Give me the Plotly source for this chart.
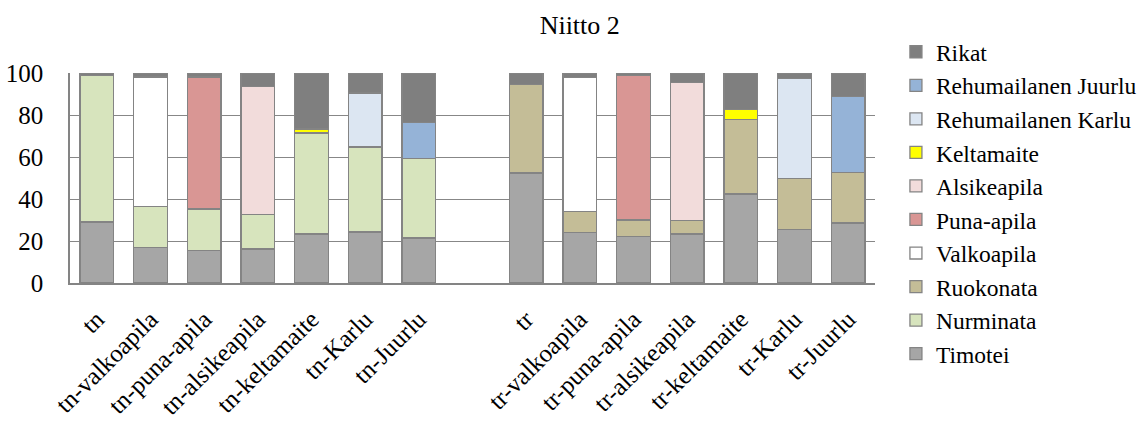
import plotly.graph_objects as go

# Treatment labels for the two mixture groups
tn_labels = ["tn", "tn-valkoapila", "tn-puna-apila", "tn-alsikeapila",
             "tn-keltamaite", "tn-Karlu", "tn-Juurlu"]
tr_labels = ["tr", "tr-valkoapila", "tr-puna-apila", "tr-alsikeapila",
             "tr-keltamaite", "tr-Karlu", "tr-Juurlu"]
gap_label = " "

# Share of each species (%), tn group then tr group
timotei_tn     = [29.0, 17.0, 15.6, 16.2, 23.3, 24.3, 21.4]
nurminata_tn   = [69.7, 19.5, 19.6, 16.5, 48.1, 40.5, 37.8]
ruokonata_tn   = [0, 0, 0, 0, 0, 0, 0]
valkoapila_tn  = [0, 61.6, 0, 0, 0, 0, 0]
puna_apila_tn  = [0, 0, 62.9, 0, 0, 0, 0]
alsike_tn      = [0, 0, 0, 61.0, 0, 0, 0]
keltamaite_tn  = [0, 0, 0, 0, 1.9, 0, 0]
karlu_tn       = [0, 0, 0, 0, 0, 25.7, 0]
juurlu_tn      = [0, 0, 0, 0, 0, 0, 17.1]
rikat_tn       = [1.3, 1.9, 1.9, 6.3, 26.7, 9.5, 23.7]

timotei_tr     = [52.4, 24.0, 22.2, 23.3, 42.4, 25.4, 28.6]
nurminata_tr   = [0, 0, 0, 0, 0, 0, 0]
ruokonata_tr   = [42.0, 10.1, 7.8, 6.4, 35.4, 24.4, 23.9]
valkoapila_tr  = [0, 63.8, 0, 0, 0, 0, 0]
puna_apila_tr  = [0, 0, 68.9, 0, 0, 0, 0]
alsike_tr      = [0, 0, 0, 65.9, 0, 0, 0]
keltamaite_tr  = [0, 0, 0, 0, 4.7, 0, 0]
karlu_tr       = [0, 0, 0, 0, 0, 47.5, 0]
juurlu_tr      = [0, 0, 0, 0, 0, 0, 36.4]
rikat_tr       = [5.6, 2.1, 1.1, 4.4, 17.5, 2.7, 11.1]

series = [
    ("Timotei", timotei_tn, timotei_tr, "#A6A6A6"),
    ("Nurminata", nurminata_tn, nurminata_tr, "#D7E4BD"),
    ("Ruokonata", ruokonata_tn, ruokonata_tr, "#C4BD97"),
    ("Valkoapila", valkoapila_tn, valkoapila_tr, "#FFFFFF"),
    ("Puna-apila", puna_apila_tn, puna_apila_tr, "#D99694"),
    ("Alsikeapila", alsike_tn, alsike_tr, "#F2DCDB"),
    ("Keltamaite", keltamaite_tn, keltamaite_tr, "#FFFF00"),
    ("Rehumailanen Karlu", karlu_tn, karlu_tr, "#DCE6F2"),
    ("Rehumailanen Juurlu", juurlu_tn, juurlu_tr, "#95B3D7"),
    ("Rikat", rikat_tn, rikat_tr, "#7F7F7F"),
]

categories = tn_labels + [gap_label] + tr_labels
FONT = "Liberation Serif, Times New Roman, serif"

fig = go.Figure()
for name, vals_tn, vals_tr, color in series:
    fig.add_trace(go.Bar(
        name=name,
        x=categories,
        y=vals_tn + [None] + vals_tr,
        marker=dict(color=color, line=dict(color="#848484", width=1.3)),
    ))

fig.update_layout(
    barmode="stack",
    bargap=0.37,
    width=1148,
    height=422,
    margin=dict(l=70, r=273, t=73, b=139, autoexpand=False),
    paper_bgcolor="white",
    plot_bgcolor="white",
    font=dict(family=FONT, size=24, color="black"),
    title=dict(text="Niitto 2", x=0.505, xref="container", y=0.94,
               yanchor="middle", xanchor="center",
               font=dict(family=FONT, size=26, color="black")),
    legend=dict(
        traceorder="reversed",
        x=1.026, xanchor="left",
        y=1.205, yanchor="top",
        font=dict(family=FONT, size=23.5, color="black"),
        itemwidth=30,
        tracegroupgap=0,
        maxheight=420,
        bgcolor="rgba(0,0,0,0)",
    ),
    xaxis=dict(
        type="category",
        categoryorder="array",
        categoryarray=categories,
        tickangle=-45,
        automargin=False,
        showline=True, linecolor="#848484", linewidth=1.5,
        showgrid=False, ticks="",
        ticklabelstandoff=10,
        tickfont=dict(family=FONT, size=25, color="black"),
    ),
    yaxis=dict(
        range=[0, 100],
        tickvals=[0, 20, 40, 60, 80, 100],
        automargin=False,
        showline=True, linecolor="#848484", linewidth=1.5,
        showgrid=True, gridcolor="#878787", gridwidth=1,
        zeroline=False, ticks="",
        ticklabelstandoff=20,
        tickfont=dict(family=FONT, size=25, color="black"),
    ),
)

fig.write_html("out.html")
